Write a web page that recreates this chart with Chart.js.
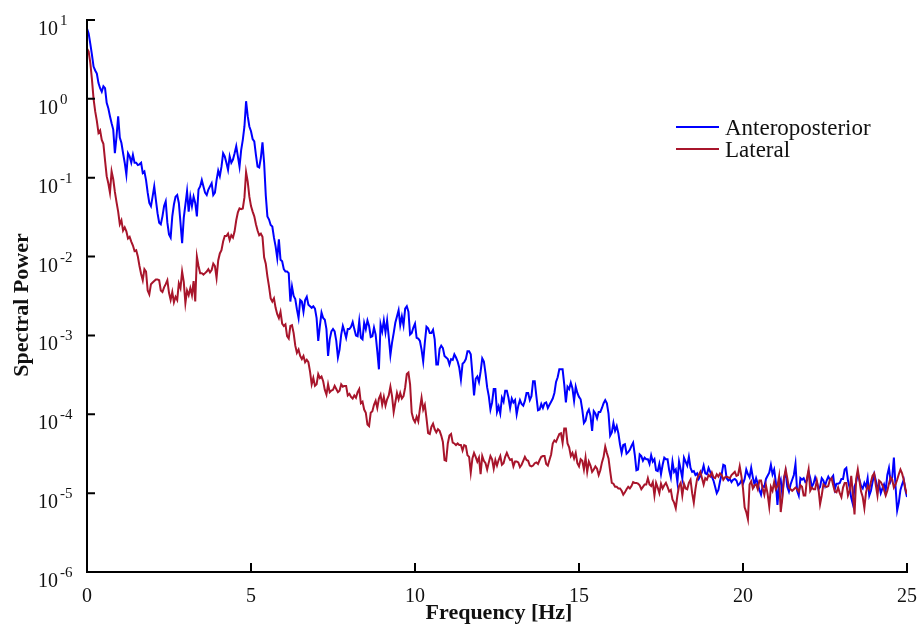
<!DOCTYPE html>
<html>
<head>
<meta charset="utf-8">
<title>Spectral Power</title>
<script src="https://cdn.jsdelivr.net/npm/chart.js@4"></script>
<style>
    html, body { margin: 0; padding: 0; background: #ffffff; }
    #wrap { width: 922px; height: 627px; }
</style>
</head>
<body>
<div id="wrap"><canvas id="chart" width="922" height="627"></canvas></div>
<script>
// Spectral power, stored as log10(power), one value per 0.05 Hz bin
const freqStep = 0.05;

const apLog10 = [
    // 0 - 5 Hz
    0.89, 0.83, 0.70, 0.56, 0.41, 0.36, 0.32, 0.20, 0.135, 0.09,
    0.16, 0.135, -0.05, -0.12, -0.22, -0.31, -0.39, -0.69, -0.48, -0.22,
    -0.49, -0.56, -0.69, -0.81, -0.96, -0.69, -0.73, -0.81, -0.71, -0.81,
    -0.81, -0.84, -0.83, -0.81, -0.94, -0.92, -1.03, -1.19, -1.32, -1.36,
    -1.24, -1.11, -1.28, -1.45, -1.57, -1.59, -1.49, -1.36, -1.30, -1.57,
    -1.72, -1.76, -1.49, -1.34, -1.24, -1.22, -1.32, -1.57, -1.83, -1.51,
    -1.34, -1.17, -1.43, -1.24, -1.36, -1.24, -1.32, -1.49, -1.15, -1.11,
    -1.03, -1.11, -1.19, -1.22, -1.15, -1.11, -1.07, -1.22, -1.19, -1.03,
    -0.91, -0.98, -0.86, -0.69, -0.73, -0.81, -0.90, -0.73, -0.81, -0.77,
    -0.69, -0.60, -0.73, -0.86, -0.65, -0.52, -0.35, -0.03, -0.22, -0.35,
    // 5 - 10 Hz
    -0.41, -0.51, -0.54, -0.71, -0.86, -0.87, -0.75, -0.55, -0.81, -1.22,
    -1.49, -1.53, -1.60, -1.62, -1.76, -1.87, -2.02, -1.78, -2.04, -2.06,
    -2.16, -2.19, -2.19, -2.21, -2.57, -2.38, -2.50, -2.54, -2.67, -2.78,
    -2.55, -2.57, -2.70, -2.55, -2.51, -2.61, -2.63, -2.65, -2.63, -2.66,
    -2.78, -3.07, -2.88, -2.71, -2.78, -2.80, -2.92, -3.26, -3.05, -2.95,
    -2.92, -2.95, -3.07, -3.28, -3.18, -2.99, -2.88, -2.95, -3.03, -2.92,
    -2.92, -2.89, -2.83, -2.92, -3.00, -3.01, -2.82, -3.03, -3.05, -2.84,
    -2.92, -2.81, -2.88, -3.02, -3.01, -2.90, -2.99, -3.20, -3.43, -2.86,
    -2.95, -2.81, -2.96, -2.81, -3.02, -3.25, -3.09, -2.97, -2.84, -2.76,
    -2.68, -2.87, -2.76, -2.87, -2.66, -2.63, -2.70, -2.99, -2.97, -2.90,
    // 10 - 15 Hz
    -2.85, -3.03, -3.04, -3.07, -3.18, -3.33, -3.09, -2.89, -2.91, -2.97,
    -2.97, -2.93, -3.05, -3.37, -3.37, -3.17, -3.13, -3.16, -3.26, -3.28,
    -3.30, -3.37, -3.30, -3.31, -3.24, -3.28, -3.33, -3.41, -3.56, -3.36,
    -3.34, -3.30, -3.20, -3.20, -3.24, -3.49, -3.76, -3.55, -3.52, -3.59,
    -3.46, -3.29, -3.33, -3.48, -3.66, -3.77, -3.94, -3.85, -3.68, -3.68,
    -3.97, -3.90, -3.99, -3.79, -3.84, -3.70, -3.70, -3.79, -3.92, -3.80,
    -3.85, -3.82, -4.00, -3.89, -3.82, -3.87, -3.89, -3.83, -3.73, -3.73,
    -3.82, -3.77, -3.58, -3.58, -3.77, -3.95, -3.94, -3.87, -3.92, -3.86,
    -3.85, -3.92, -3.88, -3.84, -3.80, -3.73, -3.59, -3.53, -3.43, -3.43,
    -3.43, -3.62, -3.85, -3.65, -3.68, -3.60, -3.67, -3.83, -3.65, -3.73,
    // 15 - 20 Hz
    -3.78, -3.81, -3.94, -4.11, -4.08, -3.98, -3.94, -4.02, -4.21, -3.96,
    -3.99, -4.05, -3.97, -3.97, -3.92, -3.86, -3.82, -3.86, -3.99, -4.27,
    -4.23, -4.11, -4.21, -4.15, -4.24, -4.38, -4.49, -4.39, -4.38, -4.50,
    -4.48, -4.45, -4.40, -4.36, -4.51, -4.71, -4.70, -4.51, -4.53, -4.59,
    -4.55, -4.57, -4.57, -4.63, -4.52, -4.60, -4.57, -4.71, -4.72, -4.63,
    -4.76, -4.64, -4.55, -4.57, -4.57, -4.71, -4.80, -4.60, -4.73, -4.70,
    -4.86, -4.60, -4.70, -4.81, -4.55, -4.60, -4.65, -4.54, -4.68, -4.73,
    -4.72, -4.77, -4.75, -4.82, -4.78, -4.73, -4.65, -4.75, -4.76, -4.68,
    -4.73, -4.79, -4.84, -4.92, -5.00, -4.96, -4.85, -4.76, -4.64, -4.65,
    -4.81, -4.84, -4.82, -4.86, -4.83, -4.82, -4.84, -4.90, -4.88, -4.84,
    // 20 - 25 Hz
    -4.88, -4.82, -4.70, -4.76, -4.80, -4.68, -4.80, -4.89, -4.81, -4.88,
    -4.96, -5.02, -4.91, -4.92, -4.82, -4.78, -4.74, -4.64, -4.76, -4.70,
    -4.86, -5.15, -4.89, -4.83, -5.02, -4.81, -4.73, -4.92, -4.98, -4.89,
    -4.83, -4.77, -4.63, -4.97, -5.03, -4.81, -4.83, -4.81, -4.86, -4.84,
    -4.73, -4.81, -4.92, -4.88, -4.80, -4.86, -4.95, -4.92, -4.81, -4.84,
    -4.91, -4.84, -4.79, -4.83, -4.81, -4.78, -4.95, -4.88, -4.88, -4.87,
    -4.82, -4.82, -4.70, -4.68, -4.84, -4.93, -5.06, -5.14, -4.92, -4.86,
    -4.75, -4.83, -4.91, -4.94, -4.87, -4.92, -4.81, -5.03, -4.97, -4.86,
    -4.76, -4.84, -4.94, -4.89, -5.00, -4.94, -4.89, -4.97, -4.77, -4.68,
    -4.85, -4.80, -4.55, -4.91, -5.22, -5.12, -4.96, -4.89, -4.83, -4.96,
    -5.05
];

const latLog10 = [
    // 0 - 5 Hz
    0.64, 0.60, 0.46, 0.25, 0.00, -0.16, -0.28, -0.43, -0.40, -0.52,
    -0.57, -0.78, -0.98, -1.07, -1.19, -0.92, -1.02, -1.18, -1.31, -1.43,
    -1.59, -1.54, -1.67, -1.63, -1.68, -1.77, -1.75, -1.81, -1.86, -1.93,
    -1.92, -2.00, -2.12, -2.22, -2.30, -2.16, -2.19, -2.43, -2.48, -2.35,
    -2.33, -2.31, -2.29, -2.29, -2.30, -2.43, -2.45, -2.39, -2.35, -2.30,
    -2.46, -2.55, -2.45, -2.58, -2.51, -2.55, -2.34, -2.40, -2.19, -2.32,
    -2.59, -2.43, -2.49, -2.40, -2.49, -2.31, -2.57, -2.00, -2.12, -2.21,
    -2.21, -2.23, -2.21, -2.19, -2.16, -2.20, -2.17, -2.09, -2.12, -2.27,
    -2.05, -1.96, -1.92, -1.81, -1.74, -1.74, -1.71, -1.79, -1.73, -1.76,
    -1.68, -1.54, -1.44, -1.39, -1.40, -1.39, -1.25, -0.93, -1.05, -1.24,
    // 5 - 10 Hz
    -1.36, -1.43, -1.49, -1.59, -1.67, -1.73, -1.71, -1.75, -2.01, -2.09,
    -2.25, -2.38, -2.53, -2.57, -2.53, -2.65, -2.73, -2.78, -2.70, -2.85,
    -2.88, -2.86, -3.01, -3.04, -2.88, -2.87, -2.97, -3.13, -3.22, -3.18,
    -3.26, -3.30, -3.26, -3.34, -3.31, -3.34, -3.46, -3.62, -3.54, -3.64,
    -3.62, -3.49, -3.54, -3.52, -3.58, -3.69, -3.75, -3.62, -3.72, -3.70,
    -3.69, -3.64, -3.68, -3.72, -3.70, -3.62, -3.65, -3.64, -3.64, -3.76,
    -3.74, -3.78, -3.80, -3.76, -3.79, -3.72, -3.68, -3.86, -3.84, -3.94,
    -3.98, -4.13, -4.15, -3.98, -3.96, -3.88, -3.83, -3.92, -3.80, -3.75,
    -3.88, -3.78, -3.89, -3.81, -3.76, -3.65, -3.77, -3.97, -3.85, -3.73,
    -3.81, -3.73, -3.80, -3.77, -3.66, -3.49, -3.47, -3.62, -3.98, -4.06,
    // 10 - 15 Hz
    -4.10, -4.03, -4.09, -3.93, -3.79, -3.94, -3.88, -4.05, -4.24, -4.25,
    -4.16, -4.12, -4.19, -4.23, -4.19, -4.21, -4.27, -4.35, -4.58, -4.59,
    -4.37, -4.27, -4.25, -4.36, -4.37, -4.39, -4.37, -4.39, -4.39, -4.46,
    -4.39, -4.40, -4.52, -4.54, -4.74, -4.56, -4.49, -4.54, -4.60, -4.55,
    -4.76, -4.53, -4.59, -4.62, -4.70, -4.61, -4.53, -4.57, -4.69, -4.58,
    -4.65, -4.58, -4.53, -4.64, -4.62, -4.54, -4.49, -4.54, -4.58, -4.57,
    -4.66, -4.60, -4.60, -4.61, -4.67, -4.64, -4.59, -4.54, -4.58, -4.59,
    -4.65, -4.66, -4.65, -4.62, -4.61, -4.63, -4.58, -4.54, -4.53, -4.53,
    -4.63, -4.65, -4.58, -4.51, -4.37, -4.33, -4.35, -4.30, -4.25, -4.24,
    -4.36, -4.18, -4.18, -4.37, -4.42, -4.53, -4.49, -4.56, -4.49, -4.62,
    // 15 - 20 Hz
    -4.66, -4.57, -4.59, -4.70, -4.55, -4.73, -4.60, -4.65, -4.73, -4.70,
    -4.66, -4.69, -4.77, -4.71, -4.61, -4.54, -4.41, -4.49, -4.56, -4.72,
    -4.87, -4.88, -4.92, -4.92, -4.94, -4.94, -4.97, -5.02, -4.99, -4.95,
    -4.92, -4.94, -4.91, -4.86, -4.87, -4.87, -4.88, -4.90, -4.95, -4.92,
    -4.89, -4.89, -4.81, -4.89, -4.91, -4.86, -5.03, -4.87, -4.93, -5.00,
    -4.88, -4.94, -4.90, -4.87, -4.92, -4.98, -4.96, -5.08, -5.12, -5.19,
    -5.03, -4.91, -4.87, -5.03, -4.88, -4.94, -4.95, -4.87, -4.83, -5.00,
    -5.12, -4.95, -4.82, -4.77, -4.73, -4.81, -4.89, -4.81, -4.83, -4.77,
    -4.79, -4.74, -4.80, -4.81, -4.76, -4.79, -4.75, -4.77, -4.83, -4.80,
    -4.79, -4.80, -4.81, -4.77, -4.75, -4.73, -4.78, -4.77, -4.66, -4.78,
    // 20 - 25 Hz
    -4.94, -5.18, -5.24, -5.33, -4.89, -4.85, -4.94, -4.90, -4.89, -4.95,
    -4.84, -4.84, -4.94, -5.02, -4.90, -5.01, -5.17, -4.92, -4.97, -4.86,
    -4.95, -4.91, -4.79, -5.24, -5.06, -4.81, -4.70, -4.81, -4.93, -4.95,
    -4.97, -4.95, -4.93, -4.95, -4.98, -4.90, -4.92, -5.03, -5.03, -4.81,
    -4.70, -4.97, -4.93, -4.95, -4.95, -4.84, -4.94, -5.14, -5.03, -4.89,
    -4.91, -4.92, -4.91, -4.83, -4.81, -4.90, -4.98, -4.99, -4.93, -5.00,
    -5.05, -4.93, -4.87, -4.87, -5.03, -4.97, -4.78, -5.01, -5.27, -4.82,
    -4.70, -4.84, -4.98, -5.05, -5.19, -4.99, -4.91, -4.95, -4.86, -4.78,
    -4.75, -4.90, -5.03, -4.84, -4.86, -4.90, -4.96, -5.03, -4.97, -4.88,
    -4.80, -4.83, -4.93, -4.89, -4.83, -4.76, -4.70, -4.75, -4.83, -4.94,
    -5.01
];

const xTicks = [0, 5, 10, 15, 20, 25];
const yExponents = [-6, -5, -4, -3, -2, -1, 0, 1];

const seriesNames = ['Anteroposterior', 'Lateral'];
const seriesColors = ['#0000ff', '#a8152b'];

const serif = '"Liberation Serif", "Times New Roman", serif';

function toPoints(logValues) {
    return logValues.map((v, i) => ({ x: +(i * freqStep).toFixed(2), y: Math.pow(10, v) }));
}

// axes, inward ticks, 10^n labels and the legend are drawn in the paper style
const paperAxes = {
    id: 'paperAxes',
    afterDraw(chart) {
        const ctx = chart.ctx;
        const xs = chart.scales.x;
        const ys = chart.scales.y;
        const left = xs.getPixelForValue(0);
        const right = xs.getPixelForValue(25);
        const top = ys.getPixelForValue(10);
        const bottom = ys.getPixelForValue(1e-6);

        ctx.save();
        ctx.strokeStyle = '#000';
        ctx.lineWidth = 2;
        ctx.beginPath();
        ctx.moveTo(left, top - 1);
        ctx.lineTo(left, bottom);
        ctx.lineTo(right + 1, bottom);
        yExponents.forEach(e => {
            const py = ys.getPixelForValue(Math.pow(10, e));
            ctx.moveTo(left, py);
            ctx.lineTo(left + 8, py);
        });
        xTicks.forEach(v => {
            if (v === 0) return;
            const px = xs.getPixelForValue(v);
            ctx.moveTo(px, bottom);
            ctx.lineTo(px, bottom - 9);
        });
        ctx.stroke();

        // y tick labels
        ctx.fillStyle = '#111';
        ctx.textBaseline = 'alphabetic';
        ctx.textAlign = 'left';
        yExponents.forEach(e => {
            const py = ys.getPixelForValue(Math.pow(10, e));
            ctx.font = '20px ' + serif;
            ctx.fillText('10', 38, py + 15);
            const w = ctx.measureText('10').width;
            ctx.font = '15px ' + serif;
            ctx.fillText(e < 0 ? '-' + Math.abs(e) : String(e), 38 + w + 2, py + 5);
        });

        // x tick labels
        ctx.font = '20px ' + serif;
        ctx.textAlign = 'center';
        xTicks.forEach(v => {
            ctx.fillText(String(v), xs.getPixelForValue(v), bottom + 30);
        });

        // axis titles
        ctx.font = 'bold 22px ' + serif;
        ctx.fillText('Frequency [Hz]', (left + right) / 2 + 2, 619);
        ctx.save();
        ctx.translate(28, (top + bottom) / 2 + 9);
        ctx.rotate(-Math.PI / 2);
        ctx.fillText('Spectral Power', 0, 0);
        ctx.restore();

        // legend
        ctx.textAlign = 'left';
        ctx.font = '23px ' + serif;
        seriesNames.forEach((name, i) => {
            const ly = 127 + i * 22;
            ctx.strokeStyle = seriesColors[i];
            ctx.lineWidth = 2;
            ctx.beginPath();
            ctx.moveTo(676, ly);
            ctx.lineTo(719, ly);
            ctx.stroke();
            ctx.fillStyle = '#111';
            ctx.fillText(name, 725, ly + 8);
        });
        ctx.restore();
    }
};

new Chart(document.getElementById('chart'), {
    type: 'line',
    data: {
        datasets: [
            {
                label: seriesNames[0],
                data: toPoints(apLog10),
                borderColor: seriesColors[0],
                borderWidth: 2,
                pointRadius: 0,
                tension: 0,
                order: 1
            },
            {
                label: seriesNames[1],
                data: toPoints(latLog10),
                borderColor: seriesColors[1],
                borderWidth: 2,
                pointRadius: 0,
                tension: 0,
                order: 0
            }
        ]
    },
    options: {
        responsive: false,
        animation: false,
        devicePixelRatio: 1,
        layout: { padding: { top: 20, right: 15, left: 0, bottom: 0 } },
        plugins: {
            legend: { display: false },
            tooltip: { enabled: false }
        },
        scales: {
            x: {
                type: 'linear',
                min: 0,
                max: 25,
                ticks: { display: false },
                grid: { display: false },
                border: { display: false },
                afterFit(scale) { scale.height = 55; }
            },
            y: {
                type: 'logarithmic',
                min: 1e-6,
                max: 10,
                ticks: { display: false },
                grid: { display: false },
                border: { display: false },
                afterFit(scale) { scale.width = 87; }
            }
        }
    },
    plugins: [paperAxes]
});
</script>
</body>
</html>
